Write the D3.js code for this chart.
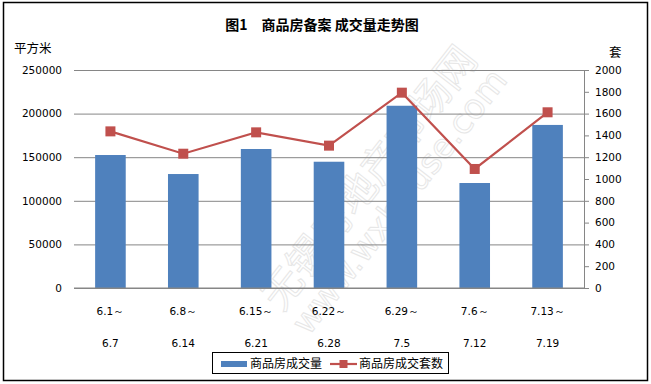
<!DOCTYPE html>
<html lang="zh">
<head>
<meta charset="utf-8">
<title>商品房备案 成交量走势图</title>
<script src="https://d3js.org/d3.v7.min.js"></script>
<style>
  body {margin:0; background:#fff;}
  svg text {font-family:"DejaVu Sans", Verdana, sans-serif; font-size:10.5px; fill:#000;}
  .cjk {font-family:"Noto Sans CJK SC", sans-serif;}
</style>
</head>
<body>
<script>
// data
var weekStart = ["6.1～", "6.8～", "6.15～", "6.22～", "6.29～", "7.6～", "7.13～"];
var weekEnd = ["6.7", "6.14", "6.21", "6.28", "7.5", "7.12", "7.19"];
var area = [152500, 130700, 159400, 144800, 209000, 120400, 187000];   // 平方米
var units = [1437, 1232, 1428, 1306, 1792, 1092, 1612];               // 套
var leftTicks = [0, 50000, 100000, 150000, 200000, 250000];
var rightTicks = [0, 200, 400, 600, 800, 1000, 1200, 1400, 1600, 1800, 2000];

const width = 651, height = 384;
const margin = {top: 70, left: 74, bottom: 96, right: 67};
const barColor = "#4F81BD", lineColor = "#C0504D", gridColor = "#868686";

const svg = d3.select("body").append("svg").attr("width", width).attr("height", height);

// outer frame
svg.append("rect").attr("x", 3.5).attr("y", 2.5).attr("width", 644).attr("height", 378)
  .attr("fill", "#fff").attr("stroke", "#000").attr("stroke-width", 1.5);

const x = d3.scaleBand().domain(weekEnd)
  .range([margin.left, width - margin.right]).paddingInner(0.58).paddingOuter(0.29);
const xc = d => x(d) + x.bandwidth() / 2;
const yL = d3.scaleLinear().domain([0, 250000]).range([height - margin.bottom, margin.top]);
const yR = d3.scaleLinear().domain([0, 2000]).range([height - margin.bottom, margin.top]);

// watermark
const wm = svg.append("g").attr("transform", "translate(385,190) rotate(-52)")
  .attr("opacity", 0.85);
wm.append("text").attr("class", "cjk").attr("text-anchor", "middle").attr("y", -6)
  .style("font-size", "40px").style("fill", "none").style("stroke", "#e3e3e3").style("stroke-width", 1)
  .text("无锡房地产市场网");
wm.append("text").attr("text-anchor", "middle").attr("y", 30)
  .style("font-size", "34px").style("fill", "none").style("stroke", "#e3e3e3").style("stroke-width", 1)
  .text("www.wxhouse.com");

// left axis with gridlines
svg.append("g").attr("transform", `translate(${margin.left},0)`)
  .call(d3.axisLeft(yL).tickValues(leftTicks).tickFormat(d3.format("d"))
    .tickSize(-(width - margin.left - margin.right)).tickPadding(12))
  .call(g => g.select(".domain").remove())
  .call(g => g.selectAll(".tick line").attr("stroke", gridColor))
  .call(g => g.selectAll(".tick text").style("font-size", "10.5px").attr("fill", "#000"));

// right axis
svg.append("g").attr("transform", `translate(${width - margin.right},0)`)
  .call(d3.axisRight(yR).tickValues(rightTicks).tickFormat(d3.format("d"))
    .tickSize(5).tickSizeOuter(0).tickPadding(6))
  .call(g => g.select(".domain").attr("stroke", gridColor))
  .call(g => g.selectAll(".tick line").attr("stroke", gridColor))
  .call(g => g.selectAll(".tick text").style("font-size", "10.5px").attr("fill", "#000"));

// bars
svg.append("g").selectAll("rect").data(area).join("rect")
  .attr("x", (d, i) => x(weekEnd[i]))
  .attr("y", d => yL(d))
  .attr("width", x.bandwidth())
  .attr("height", d => yL(0) - yL(d))
  .attr("fill", barColor);

// bottom axis line
svg.append("line").attr("x1", margin.left).attr("x2", width - margin.right)
  .attr("y1", yL(0)).attr("y2", yL(0)).attr("stroke", gridColor);

// line series
const line = d3.line().x((d, i) => xc(weekEnd[i])).y(d => yR(d));
svg.append("path").datum(units).attr("d", line)
  .attr("fill", "none").attr("stroke", lineColor).attr("stroke-width", 2.2);
svg.append("g").selectAll("rect").data(units).join("rect")
  .attr("x", (d, i) => xc(weekEnd[i]) - 5)
  .attr("y", d => yR(d) - 5)
  .attr("width", 10).attr("height", 10)
  .attr("fill", lineColor);

// category labels (two lines)
const lab = svg.append("g").attr("text-anchor", "middle");
lab.selectAll(".l1").data(weekStart).join("text").attr("class", "l1")
  .attr("x", (d, i) => xc(weekEnd[i])).attr("y", 315).text(d => d);
lab.selectAll(".l2").data(weekEnd).join("text").attr("class", "l2")
  .attr("x", d => xc(d)).attr("y", 347).text(d => d);

// title and unit labels
svg.append("text").attr("class", "cjk").attr("x", 322).attr("y", 30).attr("text-anchor", "middle")
  .style("font-size", "14px").style("font-weight", "bold").attr("xml:space", "preserve")
  .text("图1　商品房备案 成交量走势图");
svg.append("text").attr("class", "cjk").attr("x", 14).attr("y", 53).style("font-size", "12.5px").text("平方米");
svg.append("text").attr("class", "cjk").attr("x", 609).attr("y", 57).style("font-size", "12.5px").text("套");

// legend
const lg = svg.append("g");
lg.append("rect").attr("x", 212.5).attr("y", 352.5).attr("width", 236).attr("height", 21)
  .attr("fill", "#fff").attr("stroke", "#000");
lg.append("rect").attr("x", 221).attr("y", 361).attr("width", 26).attr("height", 6).attr("fill", barColor);
lg.append("text").attr("class", "cjk").attr("x", 250).attr("y", 368).style("font-size", "12px").text("商品房成交量");
lg.append("line").attr("x1", 330).attr("x2", 357).attr("y1", 364).attr("y2", 364)
  .attr("stroke", lineColor).attr("stroke-width", 2.2);
lg.append("rect").attr("x", 339.5).attr("y", 360).attr("width", 8).attr("height", 8).attr("fill", lineColor);
lg.append("text").attr("class", "cjk").attr("x", 359).attr("y", 368).style("font-size", "12px").text("商品房成交套数");
</script>
</body>
</html>
